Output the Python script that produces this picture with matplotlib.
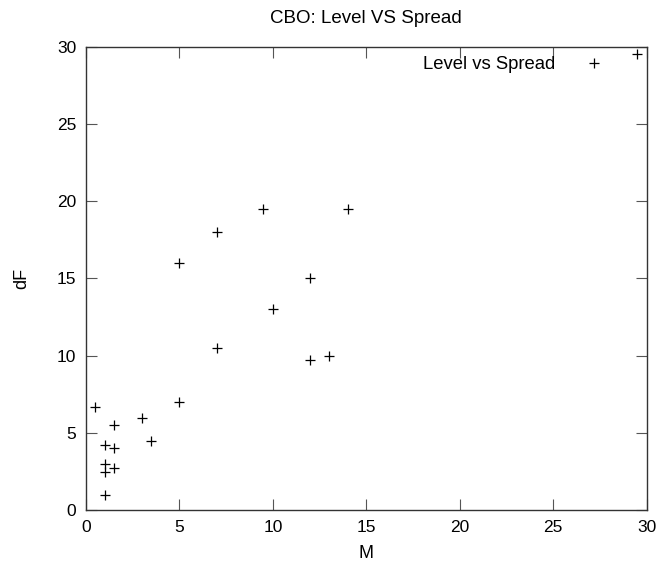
import matplotlib
matplotlib.use("Agg")
import matplotlib.pyplot as plt

plt.rcParams['font.family'] = ['Liberation Sans', 'DejaVu Sans']

M = [0.5, 5, 3, 1.5, 3.5, 1, 1.5, 1, 1, 1.5, 1,
     9.5, 14, 7, 5, 12, 10, 7, 12, 13, 29.5]
dF = [6.7, 7, 6, 5.5, 4.5, 4.25, 4, 3, 2.5, 2.75, 1,
      19.5, 19.5, 18, 16, 15, 13, 10.5, 9.75, 10, 29.5]
xticks = [0, 5, 10, 15, 20, 25, 30]
yticks = [0, 5, 10, 15, 20, 25, 30]

fig = plt.figure(figsize=(6.58, 5.69), dpi=100)
ax = fig.add_axes([86/658, 1 - 510.2/569, (646.5-86)/658, (510.2-46.7)/569])
ax.plot(M, dF, linestyle='none', marker='+', markersize=6.8, markeredgewidth=0.9,
        color='black', label='Level vs Spread')
ax.set_xlim(0, 30)
ax.set_ylim(0, 30)
ax.set_xticks(xticks)
ax.set_yticks(yticks)
ax.tick_params(direction='in', length=8, width=0.8, top=True, right=True,
               labelsize=12.5, pad=7, color='#555555')
for s in ax.spines.values():
    s.set_linewidth(1.0)
    s.set_color('#333333')
ax.set_xlabel('M', fontsize=13, labelpad=7)
ax.set_ylabel('dF', fontsize=13, labelpad=19)
ax.set_title('CBO: Level VS Spread', fontsize=13.5, pad=17)
ax.legend(loc='upper right', bbox_to_anchor=(0.945, 0.9957), frameon=False,
          markerfirst=False, fontsize=13.3, handlelength=1.5, handletextpad=1.35,
          borderaxespad=0.0)
fig.savefig('out.png', dpi=100)
